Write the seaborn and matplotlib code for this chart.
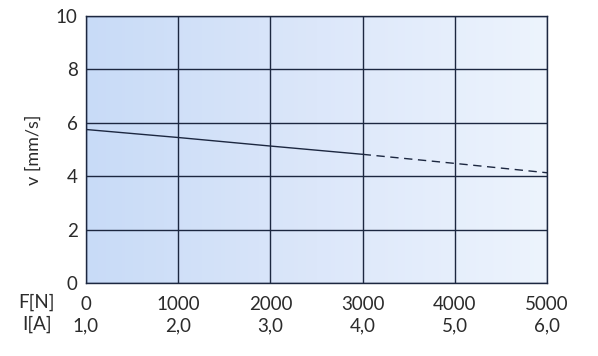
import numpy as np
import pandas as pd
import matplotlib
matplotlib.use("Agg")
import matplotlib.pyplot as plt
import seaborn as sns
from matplotlib.colors import LinearSegmentedColormap

# Data
force_ticks = [0, 1000, 2000, 3000, 4000, 5000]
force_labels = ["0", "1000", "2000", "3000", "4000", "5000"]
current_labels = ["1,0", "2,0", "3,0", "4,0", "5,0", "6,0"]
v_ticks = [0, 2, 4, 6, 8, 10]

force_solid = [0, 1000, 2000, 3000]
v_solid = [5.75, 5.45, 5.13, 4.82]
force_dashed = [3000, 4000, 5000]
v_dashed = [4.82, 4.48, 4.13]

sns.set_style("white")
plt.rcParams["font.family"] = ["Lato", "DejaVu Sans"]

fig = plt.figure(figsize=(5.98, 3.56), dpi=100)
ax = fig.add_axes([0.1438, 0.205, 0.771, 0.750])

# light blue gradient background
cmap = LinearSegmentedColormap.from_list("bg", ["#c8dbf7", "#dce7fa", "#edf4fd"])
grad = np.linspace(0, 1, 256).reshape(1, -1)
ax.imshow(grad, extent=[0, 5000, 0, 10], aspect="auto", cmap=cmap, zorder=0)

line_col = "#1c2740"
txt_col = "#2b2b2b"
solid = pd.DataFrame({"F": force_solid, "v": v_solid})
dashed = pd.DataFrame({"F": force_dashed, "v": v_dashed})
sns.lineplot(data=solid, x="F", y="v", ax=ax, color=line_col, lw=1.0, zorder=3)
sns.lineplot(data=dashed, x="F", y="v", ax=ax, color=line_col, lw=1.0,
             linestyle=(0, (6, 4)), zorder=3)

ax.set_xlim(0, 5000)
ax.set_ylim(0, 10)
ax.set_xticks(force_ticks)
ax.set_yticks(v_ticks)
ax.grid(True, color=line_col, lw=1.0)
ax.set_axisbelow(False)
for s in ax.spines.values():
    s.set_color(line_col)
    s.set_linewidth(1.0)

ax.set_xticklabels([f"{a}\n{b}" for a, b in zip(force_labels, current_labels)],
                   fontsize=13.5, color=txt_col, linespacing=1.35)
ax.set_yticklabels([str(t) for t in v_ticks], fontsize=13.5, color=txt_col)
ax.tick_params(axis="both", length=0, pad=6)
ax.tick_params(axis="x", pad=9)
ax.set_xlabel("")
ax.set_ylabel("v [mm/s]", fontsize=13, color=txt_col, labelpad=10)

fig.text(37 / 598, 1 - 313 / 356, "F[N]\nI[A]", fontsize=13.5, color=txt_col,
         ha="center", va="center", linespacing=1.35)

fig.savefig("out.png", dpi=100, facecolor="white")
